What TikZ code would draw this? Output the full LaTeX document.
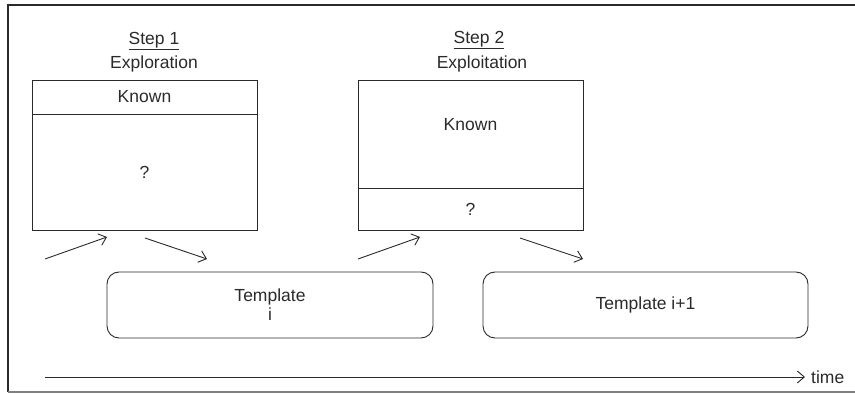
\documentclass[tikz,border=0pt]{standalone}
\usepackage{fontspec}
\setmainfont{Liberation Sans}
\usetikzlibrary{arrows.meta}
\definecolor{ink}{HTML}{2A2A2A}
\tikzset{
  lbl/.style={text=ink, font=\fontsize{17.5}{20}\selectfont, inner sep=0pt},
  panel/.style={draw=ink, line width=0.9pt},
  tmpl/.style={draw=ink, line width=0.9pt, rounded corners=12pt},
  flow/.style={draw=ink, line width=0.9pt, -{Straight Barb[length=7pt,width=12pt,line width=0.9pt]}},
}
\begin{document}
\begin{tikzpicture}[x=1pt,y=-1pt]
\useasboundingbox (0,0) rectangle (855,395);
% frame
\draw[ink, line width=2pt] (855,5.5) -- (7.5,5.5) -- (7.5,392);
\draw[gray, line width=1.2pt] (7.5,392) -- (855,392);

% step 1 panel
\node[lbl] (s1) at (154,41) {\underline{Step 1}};
\node[lbl] (e1) at (154,64) {Exploration};
\draw[panel] (32,80) rectangle (257,230);
\draw[panel] (32,114) -- (257,114);
\node[lbl] (k1) at (144.5,97) {Known};
\node[lbl] (q1) at (144.5,172) {?};

% step 2 panel
\node[lbl] (s2) at (479,40) {\underline{Step 2}};
\node[lbl] (e2) at (482,64) {Exploitation};
\draw[panel] (358,80) rectangle (583,230);
\draw[panel] (358,188) -- (583,188);
\node[lbl] (k2) at (470.5,125) {Known};
\node[lbl] (q2) at (470.5,209) {?};

% templates
\draw[tmpl] (107,272) rectangle (433,338);
\node[lbl, align=center] (t1) at (270,305) {Template\\[-1pt]i};
\draw[tmpl] (483,272) rectangle (808,338);
\node[lbl] (t2) at (645.5,305) {Template i+1};

% flow arrows
\coordinate (a1s) at (45,259);
\coordinate (a1e) at (107,237);
\coordinate (a2s) at (145,238);
\coordinate (a2e) at (207,259);
\coordinate (a3s) at (358,259);
\coordinate (a3e) at (420,237);
\coordinate (a4s) at (520,238);
\coordinate (a4e) at (583,259);
\draw[flow] (a1s) -- (a1e);
\draw[flow] (a2s) -- (a2e);
\draw[flow] (a3s) -- (a3e);
\draw[flow] (a4s) -- (a4e);

% time axis
\coordinate (ts) at (45,377);
\coordinate (te) at (805,377);
\node[lbl, anchor=west] (time) at (811,377) {time};
\draw[flow] (ts) -- (te);
\end{tikzpicture}
\end{document}
